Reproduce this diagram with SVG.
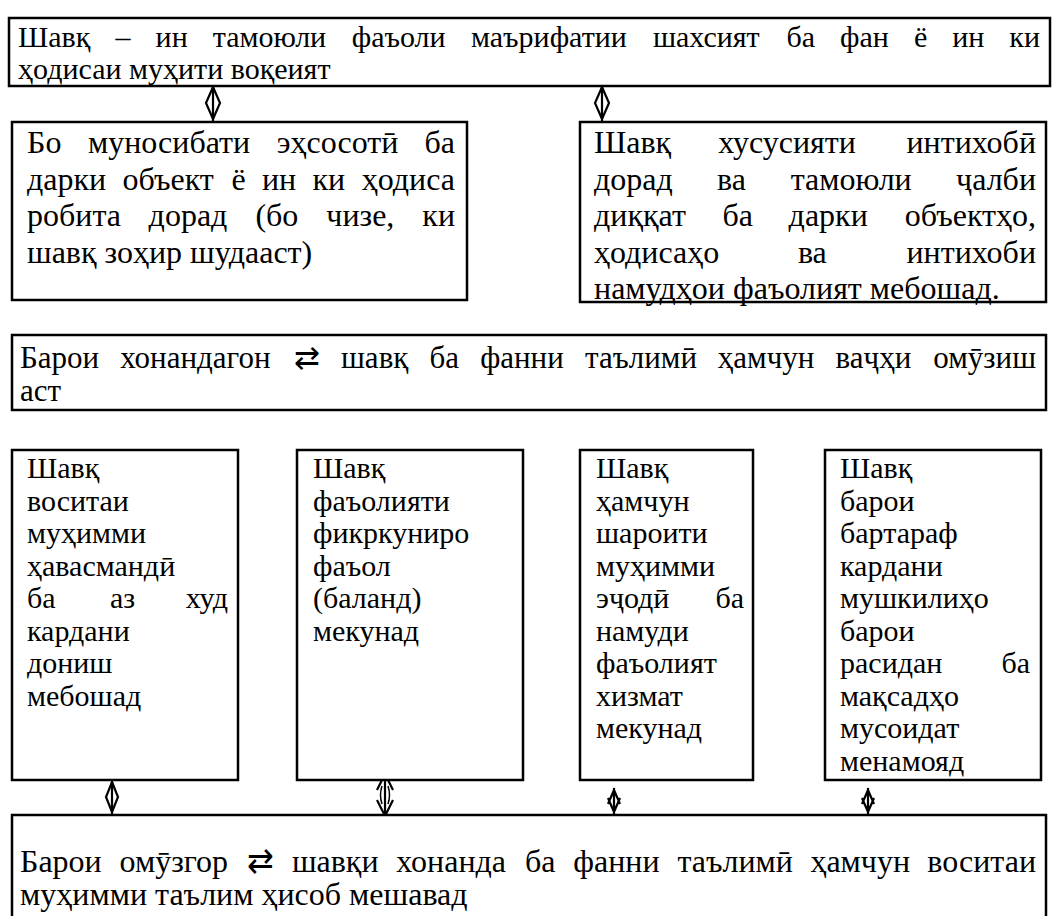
<svg xmlns="http://www.w3.org/2000/svg" width="1056" height="916" viewBox="0 0 1056 916">
<style>
.box{fill:#fff;stroke:#000;stroke-width:2.5}
text{font-family:"Liberation Serif","Times New Roman",serif;fill:#000}
.s30{font-size:30px}
.s31{font-size:31px}
.s32{font-size:32px}
.e{text-anchor:end}
.ar{fill:none;stroke:#000;stroke-width:2.2;stroke-linejoin:miter}
.th{fill:none;stroke:#000;stroke-width:1.5}
</style>
<rect width="1056" height="916" fill="#fff"/>
<g id="connectors">
<polygon class="ar" points="213,87 220,103 213,119 206,103"/><line class="ar" x1="213" y1="86" x2="213" y2="121"/>
<polygon class="ar" points="602,87 609,103 602,119 595,103"/><line class="ar" x1="602" y1="86" x2="602" y2="121"/>
<polygon class="ar" points="112,782 118,797 112,812 106,797"/><line class="ar" x1="112" y1="781" x2="112" y2="814"/>
<path class="ar" d="M377,790 L385,774 L393,790 M377,800 L385,816 L393,800 M385,774 V816"/>
<path class="th" d="M382,786 Q379,795 382,804 M388,786 Q391,795 388,804"/>
<path class="ar" d="M608,804 L614,790 L620,804 M608,798 L614,812 L620,798 M614,788 V815"/>
<path class="ar" d="M862,804 L868,790 L874,804 M862,798 L868,812 L874,798 M868,788 V815"/>
</g>
<g id="n1" class="s30">
<rect class="box" x="9" y="18" width="1041" height="68"/>
<text y="47"><tspan x="18">Шавқ</tspan><tspan x="115.5">–</tspan><tspan x="155.6">ин</tspan><tspan x="212.7">тамоюли</tspan><tspan x="351.7">фаъоли</tspan><tspan x="471">маърифатии</tspan><tspan x="652.9">шахсият</tspan><tspan x="786.4">ба</tspan><tspan x="840.1">фан</tspan><tspan x="913.9">ё</tspan><tspan x="952.3">ин</tspan></text>
<text class="e" x="1040" y="47">ки</text>
<text x="18" y="79">ҳодисаи муҳити воқеият</text>
</g>
<g id="n2" class="s32">
<rect class="box" x="12" y="122" width="455" height="178"/>
<text y="153"><tspan x="27">Бо</tspan><tspan x="87.9">муносибати</tspan><tspan x="276.7">эҳсосотӣ</tspan></text>
<text class="e" x="455" y="153">ба</text>
<text y="190"><tspan x="27">дарки</tspan><tspan x="122.5">объект</tspan><tspan x="231.4">ё</tspan><tspan x="261.9">ин</tspan><tspan x="312.4">ки</tspan></text>
<text class="e" x="455" y="190">ҳодиса</text>
<text y="226"><tspan x="27">робита</tspan><tspan x="148.6">дорад</tspan><tspan x="255.4">(бо</tspan><tspan x="326.3">чизе,</tspan></text>
<text class="e" x="455" y="226">ки</text>
<text x="27" y="263">шавқ зоҳир шудааст)</text>
</g>
<g id="n3" class="s32">
<rect class="box" x="580" y="122" width="466" height="180"/>
<text y="153"><tspan x="594">Шавқ</tspan><tspan x="718.2">хусусияти</tspan></text>
<text class="e" x="1036" y="153">интихобӣ</text>
<text y="190"><tspan x="594">дорад</tspan><tspan x="717.1">ва</tspan><tspan x="790.7">тамоюли</tspan></text>
<text class="e" x="1036" y="190">ҷалби</text>
<text y="226"><tspan x="594">диққат</tspan><tspan x="722.4">ба</tspan><tspan x="788.6">дарки</tspan></text>
<text class="e" x="1036" y="226">объектҳо,</text>
<text y="263"><tspan x="594">ҳодисаҳо</tspan><tspan x="797.9">ва</tspan></text>
<text class="e" x="1036" y="263">интихоби</text>
<text x="594" y="299">намудҳои фаъолият мебошад.</text>
</g>
<g id="n4" class="s31">
<rect class="box" x="12" y="335" width="1034" height="75"/>
<text y="368"><tspan x="20">Барои</tspan><tspan x="120.3">хонандагон</tspan><tspan x="293.8">⇄</tspan><tspan x="341">шавқ</tspan><tspan x="429.5">ба</tspan><tspan x="480.2">фанни</tspan><tspan x="585">таълимӣ</tspan><tspan x="717.8">ҳамчун</tspan><tspan x="835.6">ваҷҳи</tspan></text>
<text class="e" x="1036" y="368">омӯзиш</text>
<text x="20" y="401">аст</text>
</g>
<g id="n5" class="s30">
<rect class="box" x="12" y="450" width="226" height="330"/>
<text x="27" y="478">Шавқ</text>
<text x="27" y="510.5">воситаи</text>
<text x="27" y="543">муҳимми</text>
<text x="27" y="575.5">ҳавасмандӣ</text>
<text y="608"><tspan x="27">ба</tspan><tspan x="110">аз</tspan></text>
<text class="e" x="228" y="608">худ</text>
<text x="27" y="640.5">кардани</text>
<text x="27" y="673">дониш</text>
<text x="27" y="705.5">мебошад</text>
</g>
<g id="n6" class="s30">
<rect class="box" x="297" y="450" width="226" height="330"/>
<text x="313" y="478">Шавқ</text>
<text x="313" y="510.5">фаъолияти</text>
<text x="313" y="543">фикркуниро</text>
<text x="313" y="575.5">фаъол</text>
<text x="313" y="608">(баланд)</text>
<text x="313" y="640.5">мекунад</text>
</g>
<g id="n7" class="s30">
<rect class="box" x="580" y="450" width="173" height="330"/>
<text x="596" y="478">Шавқ</text>
<text x="596" y="510.5">ҳамчун</text>
<text x="596" y="543">шароити</text>
<text x="596" y="575.5">муҳимми</text>
<text x="596" y="608">эҷодӣ</text>
<text class="e" x="744" y="608">ба</text>
<text x="596" y="640.5">намуди</text>
<text x="596" y="673">фаъолият</text>
<text x="596" y="705.5">хизмат</text>
<text x="596" y="738">мекунад</text>
</g>
<g id="n8" class="s30">
<rect class="box" x="825" y="450" width="216" height="330"/>
<text x="840" y="478">Шавқ</text>
<text x="840" y="510.5">барои</text>
<text x="840" y="543">бартараф</text>
<text x="840" y="575.5">кардани</text>
<text x="840" y="608">мушкилиҳо</text>
<text x="840" y="640.5">барои</text>
<text x="840" y="673">расидан</text>
<text class="e" x="1030" y="673">ба</text>
<text x="840" y="705.5">мақсадҳо</text>
<text x="840" y="738">мусоидат</text>
<text x="840" y="770.5">менамояд</text>
</g>
<g id="n9" class="s32">
<rect class="box" x="12" y="815" width="1034" height="120"/>
<text y="872"><tspan x="20">Барои</tspan><tspan x="119.5">омӯзгор</tspan><tspan x="247.3">⇄</tspan><tspan x="291.9">шавқи</tspan><tspan x="396.3">хонанда</tspan><tspan x="525">ба</tspan><tspan x="573.3">фанни</tspan><tspan x="677.4">таълимӣ</tspan><tspan x="810.4">ҳамчун</tspan></text>
<text class="e" x="1036" y="872">воситаи</text>
<text x="20" y="905">муҳимми таълим ҳисоб мешавад</text>
</g>
</svg>
